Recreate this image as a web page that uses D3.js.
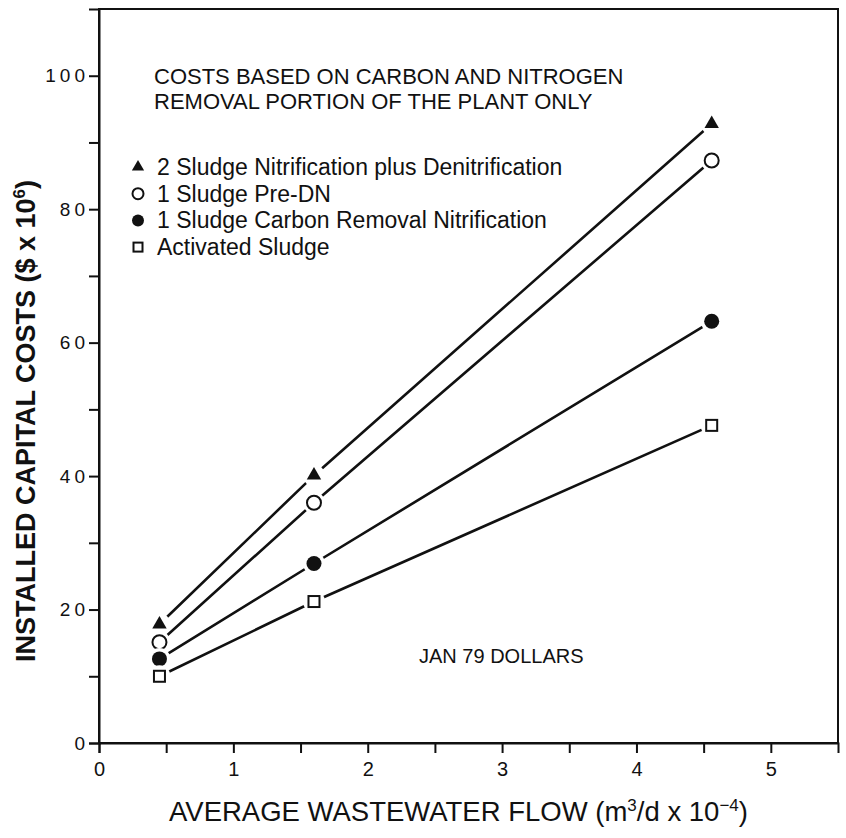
<!DOCTYPE html>
<html>
<head>
<meta charset="utf-8">
<script src="https://cdn.jsdelivr.net/npm/d3@7"></script>
<style>
  body { margin: 0; background: #fff; }
  text { font-family: "Liberation Sans", Arial, sans-serif; fill: #111; }
</style>
</head>
<body>
<div id="chart"></div>
<script>
// Data
const flows = [0.45, 1.6, 4.56];
const twoSludgeNitDenit = [17.8, 40.1, 92.8];
const oneSludgePreDN = [15.1, 36.0, 87.3];
const oneSludgeCarbonNit = [12.6, 26.9, 63.2];
const activatedSludge = [10.0, 21.2, 47.6];

const seriesNames = [
  '2 Sludge Nitrification plus Denitrification',
  '1 Sludge Pre-DN',
  '1 Sludge Carbon Removal Nitrification',
  'Activated Sludge'
];
const seriesSymbols = ['triangle', 'openCircle', 'filledCircle', 'openSquare'];
const xTicks = [0, 0.5, 1, 1.5, 2, 2.5, 3, 3.5, 4, 4.5, 5];
const yTicks = [0, 10, 20, 30, 40, 50, 60, 70, 80, 90, 100];

// Set up margins
const topMargin = 9;
const botMargin = 95;
const leftMargin = 99;
const rightMargin = 8;

const width = 846 - leftMargin - rightMargin;
const height = 838 - topMargin - botMargin;

const svg = d3.select('#chart')
  .append('svg')
  .attr('width', 846)
  .attr('height', 838);

const g = svg.append('g')
  .attr('transform', `translate(${leftMargin},${topMargin})`);

const x = d3.scaleLinear().domain([0, 5.5]).range([0, width]);
const y = d3.scaleLinear().domain([0, 110]).range([height, 0]);

// frame
g.append('rect')
  .attr('width', width)
  .attr('height', height)
  .attr('fill', 'none')
  .attr('stroke', '#111')
  .attr('stroke-width', 2);

// x-axis
const xAxis = g.append('g')
  .attr('transform', `translate(0,${height})`)
  .call(d3.axisBottom(x)
    .tickValues(xTicks)
    .tickSize(10)
    .tickPadding(9)
    .tickFormat(d => Number.isInteger(d) ? d : ''));
xAxis.select('.domain').attr('stroke-width', 2).attr('stroke', '#111');
xAxis.selectAll('line').attr('stroke-width', 2).attr('stroke', '#111');
xAxis.selectAll('text').attr('font-size', '20px');

// y-axis
const yAxis = g.append('g')
  .call(d3.axisLeft(y)
    .tickValues(yTicks)
    .tickSize(10)
    .tickPadding(0)
    .tickFormat(d => d % 20 === 0 ? d : ''));
yAxis.select('.domain').attr('stroke-width', 2).attr('stroke', '#111');
yAxis.selectAll('line').attr('stroke-width', 2).attr('stroke', '#111');
yAxis.selectAll('text')
  .attr('font-size', '19px')
  .attr('letter-spacing', '4px');

// series
const seriesValues = [twoSludgeNitDenit, oneSludgePreDN, oneSludgeCarbonNit, activatedSludge];
const series = seriesNames.map((name, i) => ({
  name: name,
  symbol: seriesSymbols[i],
  points: flows.map((f, j) => ({ x: f, y: seriesValues[i][j] }))
}));

const line = d3.line().x(d => x(d.x)).y(d => y(d.y));

g.selectAll('.series-line')
  .data(series)
  .enter()
  .append('path')
  .attr('class', 'series-line')
  .attr('d', d => line(d.points))
  .attr('fill', 'none')
  .attr('stroke', '#111')
  .attr('stroke-width', 2.6);

// draw one marker; halo leaves the small gap seen between line and symbol
function drawMarker(sel, symbol, cx, cy, halo) {
  if (halo) {
    sel.append('circle')
      .attr('cx', cx).attr('cy', cy).attr('r', 11)
      .attr('fill', '#fff');
  }
  if (symbol === 'triangle') {
    sel.append('path')
      .attr('transform', `translate(${cx},${cy})`)
      .attr('d', d3.symbol().type(d3.symbolTriangle).size(halo ? 90 : 65)())
      .attr('fill', '#111');
  } else if (symbol === 'openCircle') {
    sel.append('circle')
      .attr('cx', cx).attr('cy', cy).attr('r', halo ? 7 : 5.5)
      .attr('fill', '#fff').attr('stroke', '#111').attr('stroke-width', 2);
  } else if (symbol === 'filledCircle') {
    sel.append('circle')
      .attr('cx', cx).attr('cy', cy).attr('r', halo ? 7.5 : 6)
      .attr('fill', '#111');
  } else {
    const s = halo ? 11 : 9;
    sel.append('rect')
      .attr('x', cx - s / 2).attr('y', cy - s / 2)
      .attr('width', s).attr('height', s)
      .attr('fill', '#fff').attr('stroke', '#111').attr('stroke-width', 2);
  }
}

series.forEach(s => {
  s.points.forEach(p => drawMarker(g, s.symbol, x(p.x), y(p.y), true));
});

// annotation
g.append('text')
  .attr('x', 55).attr('y', 84 - topMargin)
  .attr('font-size', '22px')
  .text('COSTS BASED ON CARBON AND NITROGEN');
g.append('text')
  .attr('x', 55).attr('y', 109 - topMargin)
  .attr('font-size', '22px')
  .text('REMOVAL PORTION OF THE PLANT ONLY');

// legend
const legend = g.append('g').attr('transform', `translate(0,${167 - topMargin})`);
series.forEach((s, i) => {
  drawMarker(legend, s.symbol, 39, i * 26.7, false);
  legend.append('text')
    .attr('x', 58).attr('y', i * 26.7 + 8)
    .attr('font-size', '23px')
    .text(s.name);
});

g.append('text')
  .attr('x', 320).attr('y', 663 - topMargin)
  .attr('font-size', '20px')
  .text('JAN 79 DOLLARS');

// x-axis label
const xLabel = svg.append('text')
  .attr('x', 169)
  .attr('y', 821)
  .attr('font-size', '27.5px');
xLabel.append('tspan').text('AVERAGE WASTEWATER FLOW (m');
xLabel.append('tspan').attr('font-size', '17px').attr('dy', -10).text('3');
xLabel.append('tspan').attr('dy', 10).text('/d x 10');
xLabel.append('tspan').attr('font-size', '17px').attr('dy', -10).text('\u22124');
xLabel.append('tspan').attr('dy', 10).text(')');

// y-axis label
const yLabel = svg.append('text')
  .attr('transform', 'rotate(-90)')
  .attr('x', -421)
  .attr('y', 35)
  .attr('text-anchor', 'middle')
  .attr('font-size', '27px')
  .attr('font-weight', 'bold');
yLabel.append('tspan').text('INSTALLED CAPITAL COSTS ($ x 10');
yLabel.append('tspan').attr('font-size', '17px').attr('dy', -10).text('6');
yLabel.append('tspan').attr('dy', 10).text(')');
</script>
</body>
</html>
